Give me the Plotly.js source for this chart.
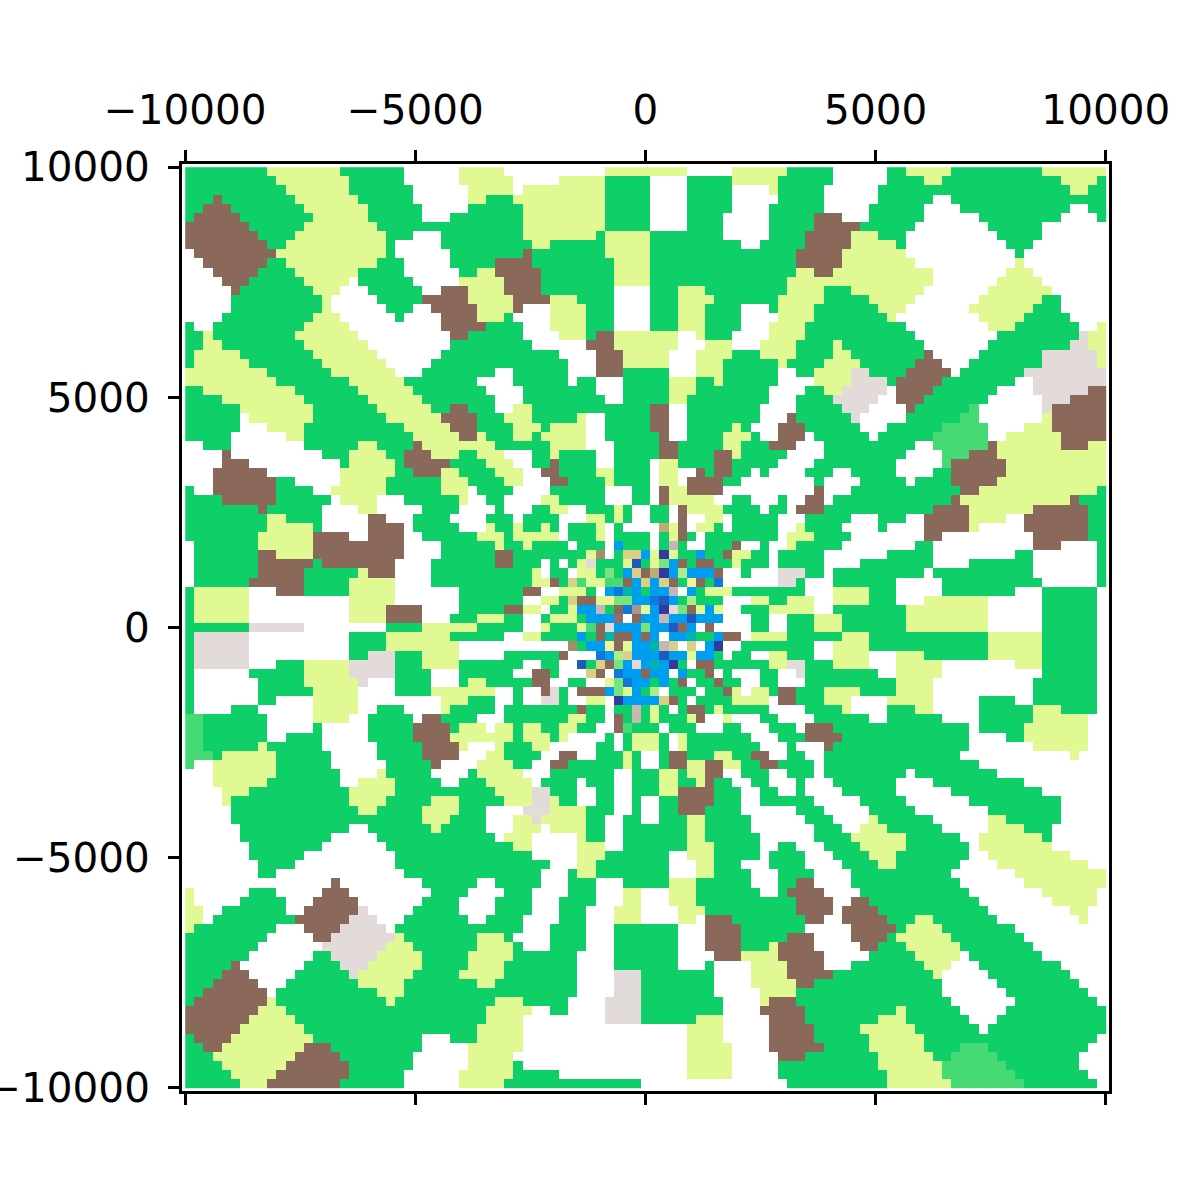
<!DOCTYPE html>
<html>
<head>
<meta charset="utf-8">
<script src="https://cdn.plot.ly/plotly-3.0.1.min.js"></script>
<style>html,body{margin:0;padding:0;background:#fff}</style>
</head>
<body>
<div id="chart" style="width:1200px;height:1200px"></div>
<script>
// Each row runs top to bottom; "G9" = class G starting at column 9.
const gridRows = [
"G0 Y9 G17 W24 Y30 Y34 W35 Y46 W55 Y60 G66 G68 W71 G77 Y79 G84 Y94",
"G0 Y10 G18 W24 Y30 Y34 W36 Y41 G46 W51 G55 Y60 G65 G68 W71 G77 Y81 G83 Y96 G100",
"G0 Y11 G18 W25 Y31 Y34 W36 Y37 G46 W51 G55 W60 Y64 G65 G68 W70 G76 Y97 G99",
"G0 B3 G4 Y12 G19 W25 Y31 G33 G34 Y36 G46 W51 G55 W60 G65 G68 W70 G76 W82 G84",
"G0 B2 G5 Y13 G20 W26 G31 G34 Y37 G46 W51 G55 W60 G64 G68 W70 G75 W81 G85 W97 G99",
"G0 B1 G6 Y14 G20 W26 G29 G34 Y37 G46 W51 G55 W59 G64 G68 B69 W72 G75 W81 G87 W96 G100",
"B0 G7 Y13 G21 G34 Y37 G46 W51 G55 W59 G64 G68 B69 G74 W80 G88 W94",
"B0 G8 Y12 G22 W25 G28 G34 Y37 G45 Y46 G51 W59 G64 B68 Y73 G76 W79 G89 W94",
"B0 G9 Y11 G22 W23 G28 G34 Y38 G40 Y46 G51 W61 G63 B68 Y73 G78 W79 G90 W93",
"W0 B1 Y10 G22 W23 G29 G34 B37 G38 Y46 G51 B67 B68 Y72 W79 G91 W92",
"W0 B2 G9 Y11 G21 W24 G29 B34 G38 Y47 G51 B67 B68 Y72 W80 Y91 W92",
"W0 B3 G8 Y12 G19 W24 G30 Y32 B34 G39 Y47 G51 Y67 Y68 B69 Y71 W82 Y90 W93",
"W0 B4 G7 Y13 W18 G19 W25 Y30 Y34 B35 G39 Y47 G51 Y66 Y68 W82 Y89 W94",
"W0 B5 G6 Y14 W17 G20 W26 B28 Y31 Y34 B35 G39 W47 G51 Y54 G57 Y66 Y68 G70 Y73 W81 Y88 W95",
"W0 G5 Y15 W16 G21 B26 Y31 Y34 B36 Y40 G43 W47 G51 Y54 G58 Y65 Y68 G70 Y75 W80 Y87 G94 W96",
"W0 G5 Y15 W16 G22 W25 B27 Y32 Y34 B36 W37 Y40 G44 W47 G51 Y54 G57 W61 G64 Y65 Y68 G69 Y76 W79 Y86 G93 W96",
"W0 G4 Y14 W17 G23 W24 B28 Y32 Y34 G35 W36 Y40 G44 W47 G51 Y54 G57 W61 Y65 Y68 G69 Y77 W78 Y87 G92 W97",
"G0 W1 G3 Y13 W18 B28 G33 G34 W37 Y40 G44 W47 G51 Y54 G57 W61 Y64 G68 W79 Y88 G91 W98 Y100",
"G0 Y2 G3 Y12 W19 B29 G31 G34 W37 Y41 G44 B45 Y47 W54 Y56 G57 W60 Y64 G68 W80 G89 E98 Y99",
"G0 Y2 G4 Y13 W20 G29 G34 W38 B44 Y47 W54 Y57 W60 Y63 G67 G68 Y71 G72 W81 G88 E97 Y99",
"G0 Y1 G6 Y14 W21 G28 G34 W41 B45 Y48 W53 Y56 G60 Y63 G67 G68 Y71 G73 B81 W82 G87 E94 Y100",
"G0 Y1 G7 Y15 W22 G27 G34 W42 B45 Y48 W53 Y56 G59 Y65 G66 G68 Y70 G74 B80 W83 G86 E94 Y100",
"Y0 G9 Y16 W23 G26 W34 G36 W42 B45 G48 W53 Y56 G59 W65 G67 G68 Y69 E73 G75 B79 W84 G85 E92",
"Y0 G10 Y18 G24 W32 W34 G36 W42 G43 W45 G48 Y53 G56 Y58 G59 W65 W68 Y69 E73 G77 B78 G83 W91 E93",
"G0 Y2 G12 Y19 G25 W33 W34 G37 W45 G48 Y53 G56 W64 G68 Y70 E72 W77 B78 G82 W89 E93 B99",
"G0 Y4 G13 Y20 G26 W34 G37 W46 G48 Y53 G55 W64 G67 G68 E71 W76 B78 G81 W88 E94 B97",
"G0 Y6 G14 Y21 G27 B29 G31 W34 Y36 G38 B51 W53 G55 W63 G67 G68 E72 W75 B79 G80 M86 W87 E94 B95",
"G0 W6 Y7 G14 Y22 B28 G32 G34 Y35 G38 Y43 W44 G46 B51 W53 G55 W63 B66 G67 G68 E73 W74 G79 M85 W87 Y94 B95",
"G0 W6 Y9 G13 Y24 B29 G32 G34 Y36 G39 Y40 W44 G46 B51 W53 G55 Y60 G61 W62 B65 G68 W74 G77 M83 W88 Y92 B95",
"G0 W5 Y11 G13 Y25 B30 Y32 G33 G34 Y36 G38 Y39 W44 G46 B52 W53 G55 Y59 G62 W63 B65 W68 G69 W75 G76 M82 W88 Y90 B96",
"W0 G2 W5 G13 Y19 G21 B25 Y26 G34 Y40 W44 G47 B52 G54 Y59 G61 B64 W67 W68 G70 W80 M82 B88 Y89 B96 Y99",
"W0 B4 W5 G15 Y18 G22 B24 Y27 G30 Y32 Y34 W35 G38 Y40 G41 W45 G47 B52 G54 B58 Y60 G61 W66 W68 G70 W79 M83 B86 Y89",
"W0 B4 W7 G17 Y18 G23 B24 G29 Y33 Y34 W36 G38 B40 G41 W45 G47 W51 Y52 G54 B58 G60 W65 W68 G69 W78 M83 B84 Y90",
"W0 B3 W9 Y17 G23 B25 Y28 G30 Y34 W37 B39 G41 Y45 G47 W51 Y52 W54 B56 G57 B58 G60 W62 G63 W64 G68 W71 G73 W78 G82 B84 Y90",
"W0 B3 G10 W12 Y17 G22 Y28 G31 G34 Y35 W37 B40 G42 Y46 G47 W51 Y52 W54 B55 G59 W61 W68 G69 W70 G74 W79 G80 B84 Y89",
"G0 W1 B3 G10 W14 Y16 G22 Y28 W31 G32 G34 W36 G40 W46 G49 W51 B52 Y53 B55 W59 W68 B69 W70 G73 B85 Y87 G100",
"G0 B4 G10 W16 Y17 W21 G24 Y30 W31 G33 G34 W35 Y39 G41 W46 G49 W51 B52 Y53 W58 G60 W62 G65 W66 B68 W70 G71 B84 Y85 B97 G98",
"G0 B8 G9 W15 Y19 W21 G26 W30 G34 W35 G38 Y40 W42 G44 Y47 G48 W49 G51 W53 B54 Y55 G59 W63 G64 W66 B67 B68 G70 B82 Y86 B93 G99",
"G0 Y9 G11 W15 B20 W22 G25 W29 G33 G34 W36 G37 W41 Y44 G46 Y47 G48 W49 G51 W53 B54 W55 Y57 W59 G60 W65 G68 W73 G76 W79 B81 Y86 W90 B92 G99",
"G0 Y9 G14 W15 B20 W24 G25 W30 Y33 G34 Y36 G37 Y39 G40 W41 G42 Y45 W46 G47 W48 O52 Y53 B54 W55 Y56 G58 W59 G60 W65 Y67 G68 W72 G76 W77 B81 Y86 W87 B92 G99",
"G0 Y8 B14 W18 B20 W24 G26 Y32 Y34 G35 Y36 W41 G42 Y45 W46 G47 W51 G52 Y53 B54 G55 W56 G57 W65 Y66 Y68 G69 W73 B81 W83 B93 G99",
"W0 G1 Y8 B14 W24 G28 Y34 G35 Y37 G38 W42 G43 W46 C47 G48 W51 G52 R53 G54 W55 G57 B60 W61 G63 W64 Y66 G67 G68 W72 G80 W82 B93 W96 G100",
"W0 G1 B8 Y10 B14 W24 G28 B34 G36 Y44 F45 W46 G47 H48 C50 Y51 P52 Y53 G54 C56 G57 B59 Y60 G62 W64 G65 G68 W70 G77 W82 G91 W93 G100",
"W0 G1 B8 G14 B15 W23 G27 B34 G36 W39 G40 W41 G42 Y43 E44 G45 Y48 N49 G50 Y51 L52 C53 B54 G55 B56 G58 Y60 G61 W64 G65 G68 W70 G74 W82 G86 W93 G100",
"W0 G1 B8 G13 Y19 B20 W23 G27 G34 Y38 W39 G40 W42 Y43 G45 L46 G47 C48 H49 B50 O51 P52 C53 K54 C55 B58 W59 G61 W62 E65 G68 W70 G71 W81 G82 W93 G100",
"W0 G1 B7 G13 Y18 W23 G27 G34 Y38 B40 G41 H42 M43 Y44 M46 B48 C49 H50 C51 H52 B53 G54 A55 B56 G57 D58 W59 E65 G67 W68 G71 W78 G83 W94 G100",
"G0 Y1 W7 B10 G13 Y18 W23 G30 G34 B37 W39 Y41 G44 W45 C46 D47 T48 C49 G50 C51 R53 W54 C55 G56 Y57 G60 W68 Y71 G75 W78 G83 W91 G94 W100",
"G0 Y1 W7 Y18 W23 G30 G34 W37 Y39 G41 H42 B43 Y45 A46 L47 C49 D51 N52 C53 G54 K55 G56 W59 Y62 G64 Y66 Y68 W69 Y71 G75 W78 Y81 W88 G94 W100",
"G0 Y1 W7 Y18 B22 W26 G30 G34 B35 Y37 W39 G40 Y42 C43 R45 G46 B47 D48 S49 Y50 C51 P52 E53 L54 B55 Y56 C57 Y58 W59 G61 Y64 Y68 W69 G71 Y79 W88 G94 W100",
"G0 Y1 W7 Y18 B22 W26 G29 Y32 Y34 G35 W37 G39 Y40 G43 C44 V47 W48 B49 C50 R52 C53 N55 C56 W59 G62 W64 G66 G68 Y69 G72 Y79 W88 G94 W100",
"G0 E7 W13 G22 Y26 G32 G34 W37 Y39 G40 Y43 M44 B45 E46 C47 L50 C51 N53 B54 C55 W56 B57 W58 G62 W64 G66 G68 Y69 G72 Y79 W88 G94 W100",
"G0 E1 W7 G18 Y22 G29 G34 W35 Y37 G39 C43 G44 B45 T46 B47 C49 B50 C51 W52 C53 T55 G56 C58 B59 W61 Y62 G66 G68 Y72 G75 Y88 G94 W100",
"G0 E1 W7 G18 Y22 W30 W34 F42 G43 C44 A46 B47 Y48 C49 T51 R52 H53 W54 H55 W56 C57 P58 W59 G61 G68 W69 Y71 G75 Y88 G94 W100",
"G0 E1 W7 G18 E20 G23 Y26 W30 W34 G35 B41 W42 D45 C46 K47 H48 C49 N52 C53 Y55 C56 G58 W59 G60 W62 Y64 G66 G68 W69 Y71 W75 Y78 G81 Y88 G94 W100",
"G0 E1 W7 G10 Y13 E18 G23 Y26 G30 G34 W37 G39 W41 N43 G44 H45 B46 L47 C48 E49 C50 T51 C52 P53 G54 W55 B56 G58 Y64 E66 G68 Y71 W75 Y78 W83 Y91 G94 W100",
"G0 W1 G7 Y13 E18 G23 W27 G30 G34 W36 B38 G40 W41 H44 B45 W46 D47 C48 B50 C51 W53 C54 G55 B57 W58 G59 W60 G63 W65 E67 G68 W76 Y78 W83 G94 W100",
"G0 W1 G8 Y13 E19 W20 G23 W27 G30 Y31 G33 G34 B38 W40 G42 W44 Y46 L47 D48 C49 G51 C52 G53 B54 W55 G56 B58 G59 W61 G63 W65 G68 Y78 W82 G93 W100",
"G0 W1 G8 Y14 W19 G23 Y27 W34 G36 W37 B39 E40 G41 W42 B43 C46 L47 Y48 C49 G50 K51 W52 G53 W56 G57 B59 Y60 W61 Y62 G64 B65 G67 G68 Y70 G74 Y78 W82 G93 W100",
"G0 W1 G8 W10 Y14 W19 Y28 G31 W34 G36 W37 E39 G41 W42 Y44 W46 P47 C48 H52 B53 G54 W55 G56 Y60 W64 B65 G67 G68 Y70 W73 Y77 W82 G87 W91 G93 W100",
"G0 W1 G5 W8 Y14 W19 G21 W24 Y28 G29 W34 G35 B43 G44 W46 G47 R49 G50 Y51 G52 W53 G54 B55 G57 Y58 G59 W64 G68 Y72 W73 G77 Y80 W82 G87 Y93 G96 W100",
"M0 G2 W9 Y14 W18 G20 W25 B26 G28 W32 W34 G35 Y42 G44 W46 B47 G48 R49 G50 Y51 G52 Y55 B56 W57 Y59 W60 G63 W65 W68 G69 W75 G77 W83 G87 Y93 W99",
"M0 G2 W9 G14 W15 G20 B25 G29 Y30 W33 Y34 G36 Y37 G39 Y41 G43 W45 B47 M48 G49 W52 G53 W56 G59 W61 G64 W67 B68 G71 W86 G87 Y92 W99",
"M0 G2 W9 G11 W15 G20 B25 Y29 Y34 G36 Y37 G40 Y41 W42 G46 W47 G48 Y49 G52 W53 Y54 G55 W62 G65 B68 G72 W86 G90 Y92 W99",
"M0 G2 Y8 G9 W15 G21 B26 Y30 W31 Y34 G35 Y38 W40 G45 W47 G48 Y49 G52 W53 Y54 G55 W63 G66 W67 W68 B70 G71 W86 Y93 W99",
"M0 G3 Y4 G10 W16 G21 B26 W30 Y33 Y34 G35 W39 B41 W43 G45 Y48 G49 W50 G52 B53 G55 Y58 G60 B62 W64 G66 W68 G70 W85 Y97 W98",
"M0 W1 Y3 G10 W16 G22 B27 W28 Y32 Y34 G36 W38 B40 G42 Y48 G49 W50 G52 B53 Y55 B57 Y59 G61 B63 G65 G68 W69 G70 W87",
"W0 Y3 G10 W17 Y21 G22 W27 G31 Y32 Y34 W37 G40 W47 G49 Y52 G54 Y55 B57 W59 G61 W64 G66 G68 W69 G70 W79 G80 W89",
"W0 Y3 G9 W17 Y19 G23 W28 G30 Y33 Y34 W38 G39 W43 G44 W47 G49 Y52 G54 Y56 B57 G58 W60 G62 W64 G67 W68 G71 W78 G82 W92",
"W0 Y4 G7 Y18 G23 Y34 E38 G40 W43 G45 W47 G49 Y52 B54 G58 W61 G63 W65 G67 W68 G72 W78 G84 W94",
"W0 Y4 G5 Y18 G22 Y27 G30 G34 Y35 E38 Y40 G41 W43 G45 W47 G49 W50 G52 B54 G58 W61 G63 G68 W69 G74 W79 G86 W96",
"W0 G5 Y19 G21 Y26 G30 W33 W34 E37 Y40 G44 W47 G49 W50 G52 B54 G57 W61 G67 G68 W70 G75 W80 G88 W96",
"W0 G5 Y26 G29 W33 W34 Y36 E38 Y39 G44 W46 G48 W50 G52 Y55 G57 W62 G68 W71 Y75 G76 W82 Y88 G90 W96",
"W0 G6 W18 G20 Y27 G28 W33 W34 Y36 W39 Y40 G44 W46 G48 Y55 G57 W62 W68 G69 W72 Y74 G77 W83 Y88 G92 W95",
"W0 G6 W16 G21 W34 Y35 W38 Y43 G44 W46 G48 Y55 G57 W63 W68 G69 Y73 G79 W85 Y87 G94 W95",
"W0 G7 W15 G22 G34 Y36 W38 Y43 W46 G48 Y55 G58 W63 G65 W67 W68 G70 Y74 G79 W86 Y87 W95",
"W0 G7 W13 G23 G34 W38 Y43 G46 W53 Y55 G58 W63 G64 W68 G71 Y75 G78 W86 Y88 W97",
"W0 G8 W12 G23 G34 W40 Y43 G45 W53 Y56 G58 W61 G64 W68 G72 Y76 G78 W85 Y89 W99",
"W0 G8 W10 G24 G34 W39 G42 Y43 G45 W53 Y56 G58 W62 G65 G68 W69 G73 W84 Y91",
"W0 B16 W17 G26 W32 G34 W39 G42 W45 G48 Y53 G56 W62 G65 B67 B68 W69 G73 W85 Y92",
"Y0 W1 G7 W10 B15 W18 G27 W31 W34 G35 W38 G42 W45 Y48 W50 Y53 G56 W63 G65 B66 B68 W70 G74 W86 Y94 W100",
"Y0 W1 G6 W11 B14 W19 G26 W30 G34 W38 G41 W45 Y48 W50 Y53 G56 B67 B68 W71 B73 G75 W87 Y95 W100",
"Y0 W2 G4 W11 B13 E19 W20 G25 W30 G34 W38 G41 W44 Y47 W50 Y54 G57 B67 B68 W71 B72 G76 W88 Y97 W99",
"Y0 W2 G3 B12 E18 W21 G24 W31 G33 G34 W37 G41 W44 Y47 W50 Y54 W56 B57 G60 B68 W70 B72 G77 Y80 G82 W89 Y98 W99",
"Y0 G1 W10 B13 E17 W22 G23 G34 W37 G40 W44 G47 W54 B57 G61 W68 B73 G78 Y79 G83 W91",
"G0 W9 B14 E16 Y23 G24 Y32 Y34 G35 W36 G40 W44 G47 W54 B57 G61 B66 B68 W69 B73 G77 Y78 G84 W92",
"G0 W8 E15 Y22 G25 Y32 Y34 G36 W37 G40 W44 G47 W54 B57 G61 Y64 B65 B68 W69 B74 G76 Y79 G85 W93",
"G0 W7 G14 E16 Y21 G26 Y31 Y34 G36 W43 G47 W54 B58 Y61 B65 B68 W70 G75 Y80 W85 G86 W94",
"G0 B5 W6 G13 E17 Y20 G26 Y31 Y34 G35 W43 G47 W54 G57 W58 Y62 B66 B68 W70 G73 Y81 W84 G87 W96",
"G0 B4 W7 G12 E18 Y19 G25 Y30 Y34 G35 W43 E47 G50 W58 Y62 B66 B68 G71 Y82 W83 G88 W97",
"G0 B3 W8 G11 Y19 G24 Y32 G34 W43 E47 G50 W58 Y62 B67 B68 G69 W83 G89 W98",
"G0 B2 W9 G10 Y21 G24 G34 W43 E47 G50 W58 Y63 G67 G68 W83 G90 W99",
"G0 B1 Y9 G10 Y22 G23 Y34 G37 W42 E46 G50 W59 Y63 B64 G67 G68 W84 G91 W100",
"B0 Y8 G11 Y33 Y34 W38 G40 W42 E46 G50 W59 B63 G68 Y78 G79 W85 G90",
"B0 Y7 G12 Y33 Y34 W37 E46 G50 Y56 W59 B64 G68 Y76 G79 W86 G89",
"B0 Y6 G13 Y32 Y34 W37 Y55 W59 B64 B68 G69 Y74 G80 W87 G88",
"G0 B1 Y5 G14 W26 G29 Y32 Y34 W37 Y55 W59 B64 B68 G69 Y75 G81 W100",
"G0 B2 Y4 B13 G16 W26 Y31 Y34 W37 Y55 W60 B64 B68 G70 Y75 G81 M85 G88 W99",
"G0 Y3 B12 G17 W25 Y31 Y34 W36 Y55 W60 B65 G68 Y76 G82 M84 G89 W98",
"G0 Y4 B11 G18 W25 Y31 Y34 G36 W37 Y55 W60 G65 G68 Y76 M83 G90 W98",
"G0 Y5 B10 G18 W24 Y30 Y34 G36 W41 Y55 W60 G65 G68 Y77 M83 G91 W99",
"G0 Y6 B9 G17 W24 Y30 Y34 G35 W50 G66 G68 Y77 M84 G92 W100"
];
// Value (0..1 of the colour scale) for each class letter.
const classLetters = ["P","N","D","C","T","G","M","L","K","Y","A","H","O","F","B","V","S","R","E","W"];
const classValues  = [0.01,0.056,0.10,0.16,0.205,0.265,0.3175,0.3675,0.417,0.47,0.52,0.5725,0.6275,0.676,0.73,0.78,0.8375,0.89,0.945,1];
const tickVals = [-10000,-5000,0,5000,10000];
const tickLabels = ["\u221210000","\u22125000","0","5000","10000"];
const colorStops = [
  [0,"rgb(51,51,153)"],[0.15,"rgb(0,153,255)"],[0.25,"rgb(0,204,102)"],
  [0.5,"rgb(255,255,153)"],[0.75,"rgb(128,92,84)"],[1,"rgb(255,255,255)"]
];
const extent = 10000, cols = 101;
const z = gridRows.map(function(row){
  const cells = new Array(cols).fill(1);
  const runs = row.trim().split(/\s+/).map(function(t){return {c:t[0], s:parseInt(t.slice(1),10)};});
  runs.forEach(function(r,i){
    const end = i+1<runs.length ? runs[i+1].s : cols;
    for(let k=r.s;k<end;k++) cells[k]=classValues[classLetters.indexOf(r.c)];
  });
  return cells;
});
const step = 2*extent/cols;
const axisBase = {
  range:[-10070,10070], tickmode:"array", tickvals:tickVals, ticktext:tickLabels,
  showgrid:false, zeroline:false, showline:true, linecolor:"#000", linewidth:3,
  ticks:"outside", ticklen:11, tickwidth:3, tickcolor:"#000",
  tickfont:{family:"DejaVu Sans",size:40.5,color:"#000"}
};
Plotly.newPlot("chart",[{
  type:"heatmap", z:z, x0:-extent+step/2, dx:step, y0:extent-step/2, dy:-step,
  colorscale:colorStops, zmin:0, zmax:1, showscale:false, zsmooth:false, hoverinfo:"skip"
}],{
  width:1200,height:1200,autosize:false,
  margin:{l:182,r:90.5,t:163.5,b:108.5,pad:0},
  paper_bgcolor:"#fff",plot_bgcolor:"#fff",showlegend:false,
  xaxis:Object.assign({},axisBase,{side:"top",mirror:"ticks",ticklabelstandoff:10}),
  yaxis:Object.assign({},axisBase,{side:"left",mirror:true,ticklabelstandoff:10})
},{displayModeBar:false,staticPlot:true});
</script>
</body>
</html>
